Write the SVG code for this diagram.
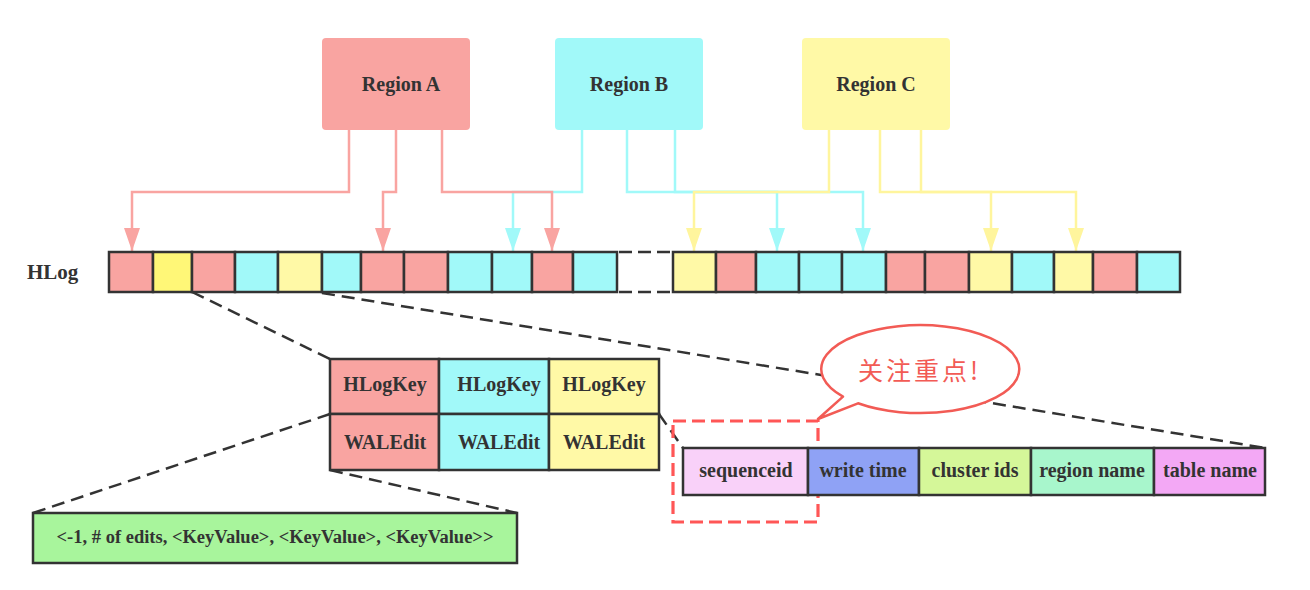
<svg xmlns="http://www.w3.org/2000/svg" width="1310" height="590" viewBox="0 0 1310 590">
<defs>
<style>
.t{font-family:"Liberation Serif","Times New Roman",serif;font-weight:bold;fill:#333;}
.c{stroke:#333;stroke-width:2.5;}
.pk{fill:#F9A4A1;}
.cy{fill:#A1F9F9;}
.yl{fill:#FFF9A6;}
.yb{fill:#FFF777;}
.dash{fill:none;stroke:#333;stroke-width:2.5;stroke-dasharray:13 7;}
.arr{fill:none;stroke-width:2.5;}
</style>
<marker id="mA" markerUnits="userSpaceOnUse" markerWidth="23" markerHeight="16" refX="23" refY="8" orient="auto"><path d="M0,0 L23,8 L0,16 z" fill="#F9A4A1"/></marker>
<marker id="mB" markerUnits="userSpaceOnUse" markerWidth="23" markerHeight="16" refX="23" refY="8" orient="auto"><path d="M0,0 L23,8 L0,16 z" fill="#A1F9F9"/></marker>
<marker id="mC" markerUnits="userSpaceOnUse" markerWidth="23" markerHeight="16" refX="23" refY="8" orient="auto"><path d="M0,0 L23,8 L0,16 z" fill="#FFF59D"/></marker>
</defs>
<rect width="1310" height="590" fill="#fff"/>

<g id="regionA"><rect x="322" y="38" width="148" height="92" rx="4" class="pk"/><text x="401" y="91" class="t" font-size="20" text-anchor="middle">Region A</text></g>
<g id="regionB"><rect x="555" y="38" width="148" height="92" rx="4" class="cy"/><text x="629" y="91" class="t" font-size="20" text-anchor="middle">Region B</text></g>
<g id="regionC"><rect x="802" y="38" width="148" height="92" rx="4" class="yl"/><text x="876" y="91" class="t" font-size="20" text-anchor="middle">Region C</text></g>

<g id="connectors">
<g stroke="#A1F9F9" class="arr">
<path d="M582,130 V192 H513 V251" marker-end="url(#mB)"/>
<path d="M627,130 V192 H777 V251" marker-end="url(#mB)"/>
<path d="M675,130 V192 H863 V251" marker-end="url(#mB)"/>
</g>
<g stroke="#F9A4A1" class="arr">
<path d="M349,130 V192 H132 V251" marker-end="url(#mA)"/>
<path d="M396,130 V192 H383 V251" marker-end="url(#mA)"/>
<path d="M442,130 V192 H552 V251" marker-end="url(#mA)"/>
</g>
<g stroke="#FFF59D" class="arr">
<path d="M829,130 V192 H694 V251" marker-end="url(#mC)"/>
<path d="M880,130 V192 H991 V251" marker-end="url(#mC)"/>
<path d="M921,130 V192 H1076 V251" marker-end="url(#mC)"/>
</g>
<g class="dash">
<line x1="192" y1="292" x2="330" y2="359"/>
<line x1="322" y1="293" x2="1265" y2="448"/>
<line x1="659" y1="414" x2="683" y2="448"/>
<line x1="330" y1="414" x2="33" y2="513"/>
<line x1="330" y1="470" x2="517" y2="513"/>
</g>
</g>

<text id="hlog-label" x="27" y="279" class="t" font-size="21">HLog</text>

<g id="hlog" class="c">
<rect x="109" y="252" width="44" height="40" class="pk"/>
<rect x="153" y="252" width="39" height="40" class="yb"/>
<rect x="192" y="252" width="43" height="40" class="pk"/>
<rect x="235" y="252" width="43" height="40" class="cy"/>
<rect x="278" y="252" width="44" height="40" class="yl"/>
<rect x="322" y="252" width="39" height="40" class="cy"/>
<rect x="361" y="252" width="43" height="40" class="pk"/>
<rect x="404" y="252" width="44" height="40" class="pk"/>
<rect x="448" y="252" width="44" height="40" class="cy"/>
<rect x="492" y="252" width="40" height="40" class="cy"/>
<rect x="532" y="252" width="41" height="40" class="pk"/>
<rect x="573" y="252" width="44" height="40" class="cy"/>
<path d="M617,252 H673 M617,292 H673" fill="none" stroke-dasharray="13 6" stroke-dashoffset="-2"/>
<rect x="673" y="252" width="43" height="40" class="yl"/>
<rect x="716" y="252" width="40" height="40" class="pk"/>
<rect x="756" y="252" width="43" height="40" class="cy"/>
<rect x="799" y="252" width="43" height="40" class="cy"/>
<rect x="842" y="252" width="44" height="40" class="cy"/>
<rect x="886" y="252" width="39" height="40" class="pk"/>
<rect x="925" y="252" width="44" height="40" class="pk"/>
<rect x="969" y="252" width="43" height="40" class="yl"/>
<rect x="1012" y="252" width="42" height="40" class="cy"/>
<rect x="1054" y="252" width="39" height="40" class="yl"/>
<rect x="1093" y="252" width="44" height="40" class="pk"/>
<rect x="1137" y="252" width="43" height="40" class="cy"/>
</g>

<g id="entries">
<g class="c">
<rect x="330" y="359" width="109" height="55" class="pk"/>
<rect x="439" y="359" width="110" height="55" class="cy"/>
<rect x="549" y="359" width="110" height="55" class="yl"/>
<rect x="330" y="414" width="109" height="56" class="pk"/>
<rect x="439" y="414" width="110" height="56" class="cy"/>
<rect x="549" y="414" width="110" height="56" class="yl"/>
</g>
<g class="t" font-size="20" text-anchor="middle">
<text x="385" y="391">HLogKey</text>
<text x="499" y="391">HLogKey</text>
<text x="604" y="391">HLogKey</text>
<text x="385" y="449">WALEdit</text>
<text x="499" y="449">WALEdit</text>
<text x="604" y="449">WALEdit</text>
</g>
</g>

<g id="keyvalues">
<rect x="33" y="513" width="484" height="50" fill="#A8F59C" class="c"/>
<text x="275" y="543" class="t" font-size="18.5" text-anchor="middle">&lt;-1, # of edits, &lt;KeyValue&gt;, &lt;KeyValue&gt;, &lt;KeyValue&gt;&gt;</text>
</g>

<rect id="highlight" x="673" y="421" width="145" height="101" fill="none" stroke="#FF5656" stroke-width="3.2" stroke-dasharray="13 6"/>

<g id="fields">
<g class="c">
<rect x="683" y="448" width="125" height="47" fill="#F9D1F9"/>
<rect x="808" y="448" width="111" height="47" fill="#8FA2F5"/>
<rect x="919" y="448" width="112" height="47" fill="#D5F799"/>
<rect x="1031" y="448" width="123" height="47" fill="#A8F6CC"/>
<rect x="1154" y="448" width="111" height="47" fill="#F3A8F5"/>
</g>
<g class="t" font-size="20" text-anchor="middle">
<text x="746" y="477">sequenceid</text>
<text x="863" y="477">write time</text>
<text x="975" y="477">cluster ids</text>
<text x="1092" y="477">region name</text>
<text x="1210" y="477">table name</text>
</g>
</g>

<g id="callout">
<path d="M843,396.6 L818,419 L858,403.3 A99,44 0 1 0 843,396.6 Z" fill="#fff" stroke="#F25B55" stroke-width="2.5" stroke-linejoin="round"/>
<text x="858" y="380" font-family="'Noto Sans CJK SC',sans-serif" font-size="25" letter-spacing="3" fill="#F25B55">关注重点!</text>
</g>
</svg>
